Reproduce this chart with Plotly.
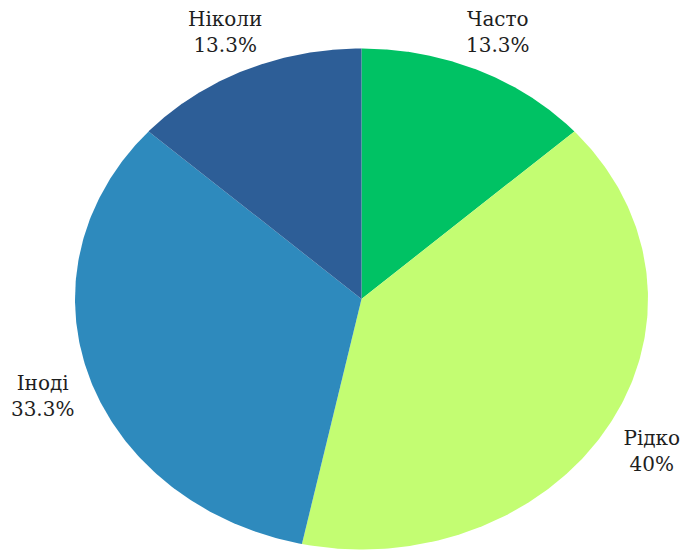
import numpy as np
import plotly.graph_objects as go

# Survey answers and respondent counts
categories = ["Часто", "Рідко", "Іноді", "Ніколи"]
counts = [2, 6, 5, 2]
colors = ["#00c264", "#c3fd72", "#2e8abd", "#2d5e97"]

total = sum(counts)
shares = [c / total for c in counts]


def pct_text(share):
    s = f"{share * 100:.1f}"
    if s.endswith(".0"):
        s = s[:-2]
    return s + "%"


fig = go.Figure()

# Wedges go clockwise from 12 o'clock; angle measured from the top
start = 0.0
label_x, label_y, label_t = [], [], []
for cat, share, col in zip(categories, shares, colors):
    end = start + share * 2 * np.pi
    theta = np.linspace(start, end, 200)
    xs = np.concatenate([[0], np.sin(theta), [0]])
    ys = np.concatenate([[0], np.cos(theta), [0]])
    fig.add_trace(go.Scatter(
        x=xs, y=ys, mode="lines", fill="toself",
        fillcolor=col, line=dict(width=0, color=col),
        hoverinfo="skip", showlegend=False,
    ))
    # outside label on the wedge's bisector; lower-half labels hang a bit lower
    mid = (start + end) / 2
    cy = np.cos(mid)
    label_x.append(1.17 * np.sin(mid))
    label_y.append(1.16 * cy - (0.036 if cy < 0 else 0.0))
    label_t.append(f"{cat}<br>{pct_text(share)}")
    start = end

fig.add_trace(go.Scatter(
    x=label_x, y=label_y, mode="text", text=label_t,
    textposition="middle center",
    textfont=dict(family="DejaVu Serif", size=20, color="#1e1e1e"),
    hoverinfo="skip", showlegend=False,
))

fig.update_xaxes(visible=False, range=[-1.2618, 1.1222], fixedrange=True)
fig.update_yaxes(visible=False, range=[-1.006, 1.1936], fixedrange=True)
fig.update_layout(
    width=683, height=551,
    margin=dict(l=0, r=0, t=0, b=0),
    paper_bgcolor="white", plot_bgcolor="white",
)

fig.write_html("out.html")
